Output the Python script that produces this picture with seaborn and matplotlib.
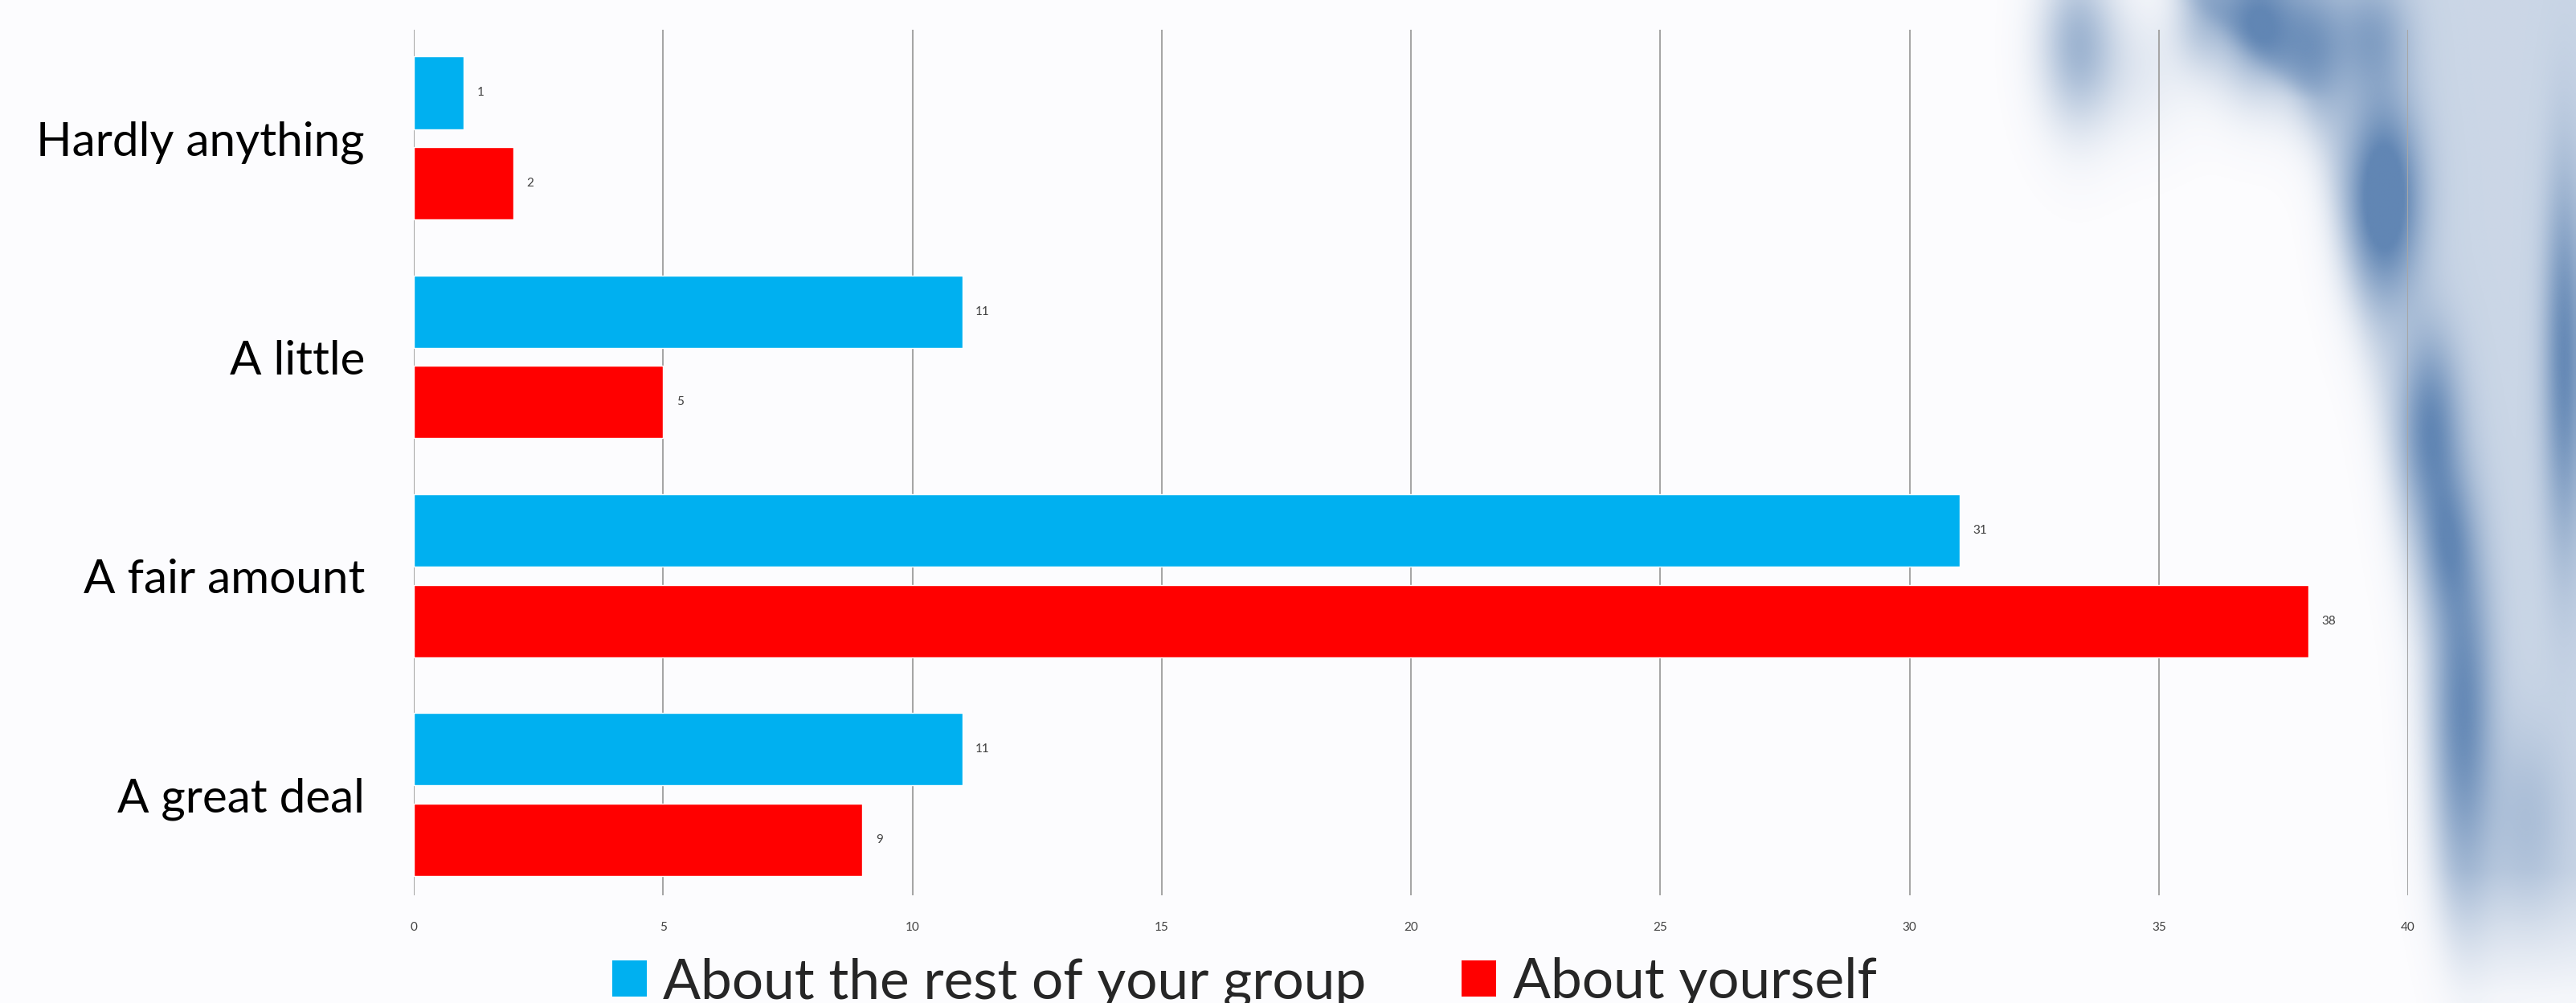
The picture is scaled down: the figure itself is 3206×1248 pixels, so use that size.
import numpy as np
import pandas as pd
import matplotlib
matplotlib.use("Agg")
import matplotlib.pyplot as plt
from matplotlib.patches import Patch
import seaborn as sns

categories = ["Hardly anything", "A little", "A fair amount", "A great deal"]
series_names = ["About the rest of your group", "About yourself"]
group_values = [1, 11, 31, 11]
self_values = [2, 5, 38, 9]
x_ticks = [0, 5, 10, 15, 20, 25, 30, 35, 40]
colors = ["#00B0F0", "#FF0000"]

df = pd.DataFrame({
    "category": categories * 2,
    "value": group_values + self_values,
    "series": [series_names[0]] * 4 + [series_names[1]] * 4,
})

sns.set_theme(style="white")
FONT = ["Lato", "DejaVu Sans"]
plt.rcParams["font.family"] = FONT

W, H = 3206, 1248
fig = plt.figure(figsize=(W / 100, H / 100), dpi=100)
fig.patch.set_facecolor("#fcfcfe")

# decorative brush-stroke background on the right (preview coordinates 1568x610)
bg = fig.add_axes([0, 0, 1, 1], zorder=-5)
bg.set_axis_off()
nx, ny = 784, 305
xs = np.linspace(0, 1568, nx)
ys = np.linspace(0, 610, ny)
X, Y = np.meshgrid(xs, ys)
edge_y = [0, 60, 100, 200, 300, 400, 500, 560, 610]
edge_x = [1335, 1405, 1416, 1440, 1458, 1474, 1482, 1488, 1495]
xl = np.interp(Y, edge_y, edge_x)
band = 1 / (1 + np.exp(-(X - xl) / 6.0))
band *= np.clip((620 - Y) / 90, 0.15, 1)
F = 0.32 * band
strokes = [
    (1265, 25, 16, 35, 0.55), (1375, 15, 18, 30, 0.7), (1410, 30, 14, 30, 0.45),
    (1445, 20, 16, 25, 0.4), (1452, 120, 16, 42, 0.9), (1562, 220, 9, 80, 0.65),
    (1480, 260, 13, 40, 0.65), (1500, 430, 13, 75, 0.65), (1490, 330, 11, 30, 0.4),
    (1540, 500, 16, 40, 0.2), (1340, 10, 12, 22, 0.35), (1300, 40, 25, 30, 0.15),
]
for bx, by, sx, sy, a in strokes:
    F += a * np.exp(-((X - bx) ** 2 / (2 * sx ** 2) + (Y - by) ** 2 / (2 * sy ** 2)))
F = np.clip(F, 0, 1) * 0.88
base = np.array([0x4C, 0x76, 0xAA]) / 255.0
img = np.zeros((ny, nx, 4))
img[..., :3] = base
img[..., 3] = F
bg.imshow(img, extent=[0, 1, 0, 1], aspect="auto", interpolation="bilinear", origin="upper")
bg.set_xlim(0, 1)
bg.set_ylim(0, 1)

ax = fig.add_axes([515 / W, 1 - 1114 / H, (2997 - 515) / W, (1114 - 37) / H])
ax.patch.set_alpha(0)

sns.barplot(data=df, y="category", x="value", hue="series", orient="h",
            palette=colors, width=0.827, gap=0.2, legend=False, ax=ax,
            order=categories, hue_order=series_names, saturation=1)

for c in ax.containers:
    ax.bar_label(c, padding=12, fontsize=11, color="#404040", family=FONT)

ax.set_xlim(0, 40)
ax.set_ylim(3.46, -0.495)
ax.set_xticks(x_ticks)
ax.set_xticklabels([str(t) for t in x_ticks])
ax.grid(axis="x", color="#a6a6a6", linewidth=1.5)
ax.set_axisbelow(True)
for sp in ax.spines.values():
    sp.set_visible(False)
ax.tick_params(axis="x", length=0, pad=24, labelsize=11, labelcolor="#404040")
ax.tick_params(axis="y", length=0, pad=44, labelsize=42, labelcolor="black")
ax.set_xlabel("")
ax.set_ylabel("")

handles = [Patch(facecolor=colors[0], edgecolor="none"), Patch(facecolor=colors[1], edgecolor="none")]
fig.legend(handles, series_names, loc="center", bbox_to_anchor=(0.483, 0.02), ncol=2,
           frameon=False, fontsize=50, handlelength=0.62, handleheight=0.62,
           handletextpad=0.29, columnspacing=1.72)

fig.savefig("out.png", dpi=100, facecolor=fig.get_facecolor())
